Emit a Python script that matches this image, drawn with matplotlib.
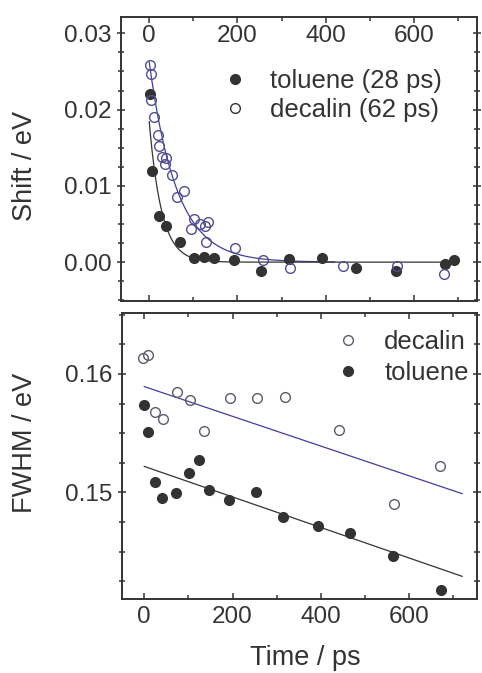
import numpy as np
import matplotlib
matplotlib.use("Agg")
import matplotlib.pyplot as plt
from matplotlib.ticker import MultipleLocator, FormatStrFormatter

plt.rcParams['font.family'] = ['Liberation Sans', 'DejaVu Sans']

# ---- spectral shift vs. delay time ----
tol_shift_t = [1, 7, 23, 39, 70, 101, 124, 147, 193, 254, 316, 392, 469, 559, 671, 691]
tol_shift = [0.0220, 0.0119, 0.0061, 0.0047, 0.0027, 0.0006, 0.0007, 0.0005,
             0.0003, -0.0011, 0.0004, 0.0006, -0.0008, -0.0012, -0.0002, 0.0003]

dec_shift_t = [2, 5, 5, 11, 19, 23, 28, 39, 36, 51, 62, 79, 95, 101, 115, 126,
               134, 129, 194, 257, 318, 440, 562, 668]
dec_shift = [0.0259, 0.0247, 0.0213, 0.0190, 0.0167, 0.0152, 0.0138, 0.0136,
             0.0129, 0.0114, 0.0086, 0.0093, 0.0044, 0.0057, 0.0050, 0.0047,
             0.0052, 0.0027, 0.0019, 0.0003, -0.0008, -0.0005, -0.0005, -0.0016]

# exponential fits: amplitude (eV), decay time (ps), fitted range (ps)
tol_amp, tol_tau, tol_range = 0.0184, 28, (0, 697)
dec_amp, dec_tau, dec_range = 0.0262, 62, (0, 420)

# ---- line width vs. delay time ----
dec_fwhm_t = [-2, 9, 25, 42, 73, 104, 135, 195, 256, 319, 440, 565, 669]
dec_fwhm = [0.16133, 0.16161, 0.15681, 0.15619, 0.15850, 0.15780, 0.15517,
            0.15794, 0.15799, 0.15808, 0.15525, 0.14898, 0.15220]

tol_fwhm_t = [0, 8, 24, 39, 72, 102, 125, 147, 193, 253, 315, 393, 466, 563, 673]
tol_fwhm = [0.15737, 0.15506, 0.15087, 0.14952, 0.14997, 0.15164, 0.15271,
            0.15017, 0.14938, 0.15003, 0.14791, 0.14718, 0.14655, 0.14460, 0.14175]

# linear fits: intercept (eV), slope (eV/ps), fitted range (ps)
dec_lin = (0.15893, -1.2556e-5)
tol_lin = (0.15219, -1.2889e-5)
lin_range = (0, 720)

# ---- style ----
INK = '#333333'
BLUE = '#3f3fa0'
OPEN_TOP = '#4f4f8f'
OPEN_BOT = '#5a5a6a'
TICK_FS = 17.5
LEG_FS = 18.5
LAB_FS = 19.5
MS = 7

W, H = 482, 673
fig = plt.figure(figsize=(W / 100, H / 100), dpi=100)


def frac_box(l, t, r, b):
    return [l / W, 1 - b / H, (r - l) / W, (b - t) / H]


ax1 = fig.add_axes(frac_box(121, 16.7, 477, 300.5))
ax2 = fig.add_axes(frac_box(121.7, 313.3, 477, 599.3))

for ax in (ax1, ax2):
    for sp in ax.spines.values():
        sp.set_linewidth(1.4)
        sp.set_color(INK)
    ax.xaxis.set_major_locator(MultipleLocator(200))
    ax.xaxis.set_minor_locator(MultipleLocator(100))
    ax.tick_params(axis='x', which='both', direction='in', top=True, bottom=True,
                   color=INK, labelcolor=INK, labelsize=TICK_FS, width=1.1)
    ax.tick_params(axis='x', which='major', length=4.5)
    ax.tick_params(axis='x', which='minor', length=3)
    ax.tick_params(axis='y', which='both', direction='inout', left=True, right=True,
                   color=INK, labelcolor=INK, labelsize=TICK_FS, width=1.1, pad=3.5)
    ax.tick_params(axis='y', which='major', length=6)
    ax.tick_params(axis='y', which='minor', length=4)
    ax.yaxis.set_major_locator(MultipleLocator(0.01))
    ax.yaxis.set_minor_locator(MultipleLocator(0.0025))
    ax.yaxis.set_major_formatter(FormatStrFormatter('%.2f'))

# ---- top panel: shift ----
ax1.set_xlim(-64, 743)
ax1.set_ylim(-0.00503, 0.03218)
ax1.tick_params(axis='x', which='both', labeltop=True, labelbottom=False)
ax1.tick_params(axis='x', which='major', pad=-21.5)

t_tol = np.linspace(*tol_range, 400)
t_dec = np.linspace(*dec_range, 400)
ax1.plot(t_dec, dec_amp * np.exp(-t_dec / dec_tau), color=BLUE, lw=0.9, zorder=2)
ax1.plot(t_tol, tol_amp * np.exp(-t_tol / tol_tau), color=INK, lw=0.9, zorder=3)
h_tol, = ax1.plot(tol_shift_t, tol_shift, 'o', ms=MS, color=INK, mec=INK, zorder=4,
                  label='toluene (28 ps)')
h_dec, = ax1.plot(dec_shift_t, dec_shift, 'o', ms=MS, mfc='none', mec=OPEN_TOP,
                  mew=1.0, zorder=4, label='decalin (62 ps)')
leg1 = ax1.legend(handles=[h_tol, h_dec], loc='upper left', bbox_to_anchor=(0.291, 0.815),
                  frameon=False, fontsize=LEG_FS, borderpad=0, borderaxespad=0,
                  handlelength=0.8, handletextpad=0.96, labelspacing=0.18)
for txt in leg1.get_texts():
    txt.set_color(INK)
leg1.legend_handles[1].set_markeredgecolor(INK)

ax1.set_ylabel('Shift / eV', fontsize=LAB_FS, color=INK, va='center')
ax1.yaxis.set_label_coords(-0.270, 0.473)

# ---- bottom panel: FWHM ----
ax2.set_xlim(-51.2, 753.7)
ax2.set_ylim(0.14097, 0.16512)
ax2.tick_params(axis='x', which='major', pad=5)

t_lin = np.linspace(*lin_range, 2)
ax2.plot(t_lin, dec_lin[0] + dec_lin[1] * t_lin, color=BLUE, lw=0.9, zorder=2)
ax2.plot(t_lin, tol_lin[0] + tol_lin[1] * t_lin, color=INK, lw=0.9, zorder=2)
g_dec, = ax2.plot(dec_fwhm_t, dec_fwhm, 'o', ms=MS, mfc='none', mec=OPEN_BOT, mew=1.0,
                  zorder=4, label='decalin')
g_tol, = ax2.plot(tol_fwhm_t, tol_fwhm, 'o', ms=MS, color=INK, mec=INK, zorder=4,
                  label='toluene')
leg2 = ax2.legend(handles=[g_dec, g_tol], loc='upper left', bbox_to_anchor=(0.609, 0.940),
                  frameon=False, fontsize=LEG_FS, borderpad=0, borderaxespad=0,
                  handlelength=0.8, handletextpad=1.0, labelspacing=0.26)
for txt in leg2.get_texts():
    txt.set_color(INK)

ax2.set_ylabel('FWHM / eV', fontsize=LAB_FS, color=INK, va='center')
ax2.yaxis.set_label_coords(-0.272, 0.548)
ax2.set_xlabel('Time / ps', fontsize=LAB_FS, color=INK, va='center')
ax2.xaxis.set_label_coords(0.516, -0.205)

fig.savefig('out.png', dpi=100)
